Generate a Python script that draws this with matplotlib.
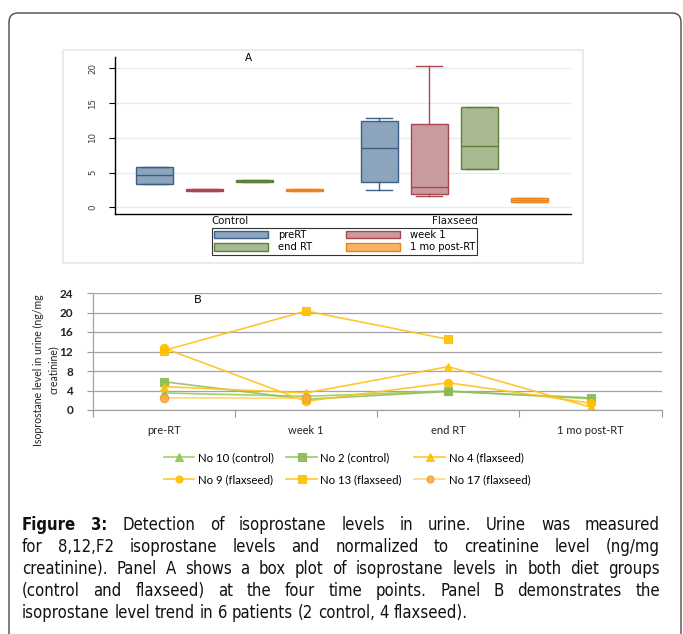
import numpy as np
import matplotlib
matplotlib.use('Agg')
import matplotlib.pyplot as plt
from matplotlib import font_manager
from matplotlib.patches import FancyBboxPatch, Rectangle, Patch
from matplotlib.transforms import IdentityTransform

W, H = 683, 634

# ---- Panel A: box plot summary values
groups = ['Control', 'Flaxseed']
timepoints_a = ['preRT', 'week 1', 'end RT', '1 mo post-RT']
# (whislo, q1, med, q3, whishi)
control_stats = [
    (3.3, 3.3, 4.65, 5.85, 5.85),
    (2.3, 2.3, 2.45, 2.6, 2.6),
    (3.65, 3.65, 3.8, 3.95, 3.95),
    (2.3, 2.3, 2.45, 2.6, 2.6),
]
flax_stats = [
    (2.5, 3.65, 8.5, 12.45, 12.9),
    (1.65, 1.95, 3.0, 12.0, 20.4),
    (5.5, 5.5, 8.8, 14.5, 14.5),
    (0.75, 0.75, 1.05, 1.35, 1.35),
]
a_fill = ['#8DA4BD', '#C99A9E', '#A9BA92', '#F5B466']
a_edge = ['#3B5F86', '#A9464F', '#5E813A', '#E8841C']

# ---- Panel B: individual patients
timepoints_b = ['pre-RT', 'week 1', 'end RT', '1 mo post-RT']
no10_control = [3.5, 2.8, 3.9, 2.3]
no2_control = [5.8, 2.2, 3.8, 2.5]
no4_flax = [4.8, 3.5, 8.9, 0.6]
no9_flax = [12.7, 1.8, 5.6, 1.4]
no13_flax = [12.2, 20.3, 14.5, np.nan]
no17_flax = [2.5, 2.4, np.nan, np.nan]

caption_lines = [
    'Figure 3: Detection of isoprostane levels in urine. Urine was measured',
    'for 8,12,F2 isoprostane levels and normalized to creatinine level (ng/mg',
    'creatinine). Panel A shows a box plot of isoprostane levels in both diet groups',
    '(control and flaxseed) at the four time points. Panel B demonstrates the',
    'isoprostane level trend in 6 patients (2 control, 4 flaxseed).',
]

names = {f.name for f in font_manager.fontManager.ttflist}
if 'Liberation Sans Narrow' in names:
    cap_font, cap_stretch = 'Liberation Sans Narrow', 'normal'
elif any(f.name == 'DejaVu Sans' and f.stretch == 'condensed' for f in font_manager.fontManager.ttflist):
    cap_font, cap_stretch = 'DejaVu Sans', 'condensed'
else:
    cap_font, cap_stretch = 'Liberation Sans', 'normal'
b_font = ['Lato', 'DejaVu Sans']


def fx(x):
    return x / W


def fy(y):
    return 1 - y / H


fig = plt.figure(figsize=(W / 100, H / 100), dpi=100)
fig.patch.set_facecolor('white')
renderer = fig.canvas.get_renderer()

# outer rounded frame and panel A frame (pixel coordinates)
fig.patches.append(FancyBboxPatch((9, H - 680), 672, 680 - 13,
                                  boxstyle='round,pad=0,rounding_size=9',
                                  transform=IdentityTransform(), fill=False,
                                  ec='#4a4a4a', lw=1.0, figure=fig))
fig.patches.append(Rectangle((62.7, H - 262.7), 583 - 62.7, 262.7 - 50,
                             transform=IdentityTransform(), fill=False,
                             ec='#E3EBEF', lw=1.3, figure=fig))

# ---------------- Panel A
axA = fig.add_axes([fx(115), fy(214.3), fx(570.7) - fx(115), fy(57.3) - fy(214.3)])
spacing = 50 / 224.5
bw = 37 / 224.5
stats, pos, fills, edges = [], [], [], []
for g, grp in enumerate([control_stats, flax_stats]):
    for k, s in enumerate(grp):
        stats.append(dict(whislo=s[0], q1=s[1], med=s[2], q3=s[3], whishi=s[4], fliers=[]))
        pos.append(g + (k - 1.5) * spacing)
        fills.append(a_fill[k])
        edges.append(a_edge[k])

bp = axA.bxp(stats, positions=pos, widths=bw, patch_artist=True, showfliers=False,
             capwidths=bw * 0.7, manage_ticks=False)
for i, box in enumerate(bp['boxes']):
    box.set_facecolor(fills[i])
    box.set_edgecolor(edges[i])
    box.set_linewidth(1.0)
    bp['medians'][i].set_color(edges[i])
    bp['medians'][i].set_linewidth(1.0)
    for j in (2 * i, 2 * i + 1):
        bp['whiskers'][j].set_color(edges[i])
        bp['whiskers'][j].set_linewidth(1.0)
        bp['caps'][j].set_color(edges[i])
        bp['caps'][j].set_linewidth(1.0)

axA.set_xlim(-0.512, 1.518)
axA.set_ylim(-1.0, 21.6)
axA.set_yticks([0, 5, 10, 15, 20])
axA.set_yticklabels(['0', '5', '10', '15', '20'], rotation=90, va='center',
                    fontsize=6.2, color='#3a3a3a')
axA.tick_params(axis='y', length=4, width=0.8, pad=9)
axA.set_xticks([0, 1])
axA.set_xticklabels(groups, fontsize=7.4, color='#111111')
axA.tick_params(axis='x', length=0, pad=1.5)
axA.yaxis.grid(True, color='#E3ECF0', lw=1.0)
axA.set_axisbelow(True)
for sp in ['top', 'right']:
    axA.spines[sp].set_visible(False)
for sp in ['left', 'bottom']:
    axA.spines[sp].set_linewidth(1.0)
    axA.spines[sp].set_color('black')
fig.text(fx(248), fy(58), 'A', fontsize=7.5, ha='center', va='center')

legA = [Patch(facecolor=a_fill[k], edgecolor=a_edge[k], lw=1.0, label=timepoints_a[k])
        for k in range(4)]
# order so rows read preRT, week 1 / end RT, 1 mo post-RT
legA = [legA[0], legA[2], legA[1], legA[3]]
fig.legend(handles=legA, loc='upper center', bbox_to_anchor=(fx(344.7), fy(227.7)),
           ncol=2, fontsize=7.2, frameon=True, fancybox=False, edgecolor='black',
           handlelength=5.4, handleheight=0.75, handletextpad=1.0, columnspacing=3.3,
           labelspacing=0.22, borderpad=0.25, borderaxespad=0)
fig.legends[-1].get_frame().set_linewidth(0.8)

# ---------------- Panel B
axB = fig.add_axes([fx(92.7), fy(410), fx(661.7) - fx(92.7), fy(293) - fy(410)])
xs = np.arange(len(timepoints_b))
series = [
    ('No 10 (control)', no10_control, '^', '#9ACD5A', '#92C851', '#92C851'),
    ('No 2 (control)', no2_control, 's', '#93BE5E', '#8CB852', '#8CB852'),
    ('No 4 (flaxseed)', no4_flax, '^', '#FFC21A', '#FFC000', '#FFC000'),
    ('No 9 (flaxseed)', no9_flax, 'o', '#FFC21A', '#FFC000', '#FFC000'),
    ('No 13 (flaxseed)', no13_flax, 's', '#FFC21A', '#FFC000', '#FFC000'),
    ('No 17 (flaxseed)', no17_flax, 'o', '#FFD36A', '#F6AE3E', '#EE9A3A'),
]
handles = []
for lab, vals, mk, lc, mfc, mec in series:
    h, = axB.plot(xs, vals, color=lc, lw=1.2, marker=mk, markersize=6,
                  markerfacecolor=mfc, markeredgecolor=mec, markeredgewidth=0.8,
                  alpha=0.9, label=lab)
    handles.append(h)

axB.set_xlim(-0.5, 3.5)
axB.set_ylim(0, 24)
axB.set_yticks(np.arange(0, 25, 4))
axB.set_yticklabels([str(v) for v in range(0, 25, 4)], family=b_font,
                    fontsize=8.5, fontweight='bold', color='#222222')
axB.tick_params(axis='y', length=4, width=0.8, color='#999999', pad=10)
axB.set_xticks(xs)
axB.set_xticklabels(timepoints_b, family=b_font, fontsize=8, color='#222222')
axB.tick_params(axis='x', which='major', length=0, pad=11)
axB.set_xticks(np.arange(-0.5, 3.6, 1), minor=True)
axB.tick_params(axis='x', which='minor', length=5, width=0.8, color='#999999')
axB.yaxis.grid(True, color='#A3A3A3', lw=0.9)
axB.set_axisbelow(True)
for sp in ['top', 'right']:
    axB.spines[sp].set_visible(False)
for sp in ['left', 'bottom']:
    axB.spines[sp].set_color('#A3A3A3')
    axB.spines[sp].set_linewidth(0.9)
fig.text(fx(198), fy(300), 'B', fontsize=8.5, family=b_font, ha='center', va='center')
fig.text(fx(46), fy(370), 'Isoprostane level in urine (ng/mg\ncreatinine)', rotation=90,
         family=b_font, fontsize=7.6, ha='center', va='center', linespacing=1.4,
         multialignment='center', color='#222222')

order = [0, 3, 1, 4, 2, 5]
fig.legend(handles=[handles[i] for i in order], labels=[series[i][0] for i in order],
           loc='center', bbox_to_anchor=(fx(347), fy(468.5)), ncol=3, frameon=False,
           prop={'family': b_font, 'size': 8.2}, handlelength=2.7, handletextpad=0.3,
           columnspacing=1.1, labelspacing=1.0, markerscale=0.85)

# ---------------- Caption, justified between x=22 and x=660
left, right = 22, 660
# size the caption font so the densest line (line 3) nearly fills the width
probe = fig.text(0, 0, caption_lines[2], family=cap_font, fontsize=10, fontstretch=cap_stretch)
cap_size = min(12.0, 10 * 632 / probe.get_window_extent(renderer).width)
probe.remove()

base = 530
for li, line in enumerate(caption_lines):
    words = line.split(' ')
    texts = []
    for wi, w in enumerate(words):
        bold = li == 0 and wi < 2
        t = fig.text(0, fy(base + 22 * li), w, family=cap_font, fontsize=cap_size,
                     fontstretch=cap_stretch,
                     fontweight='bold' if bold else 'normal', va='baseline', color='#111111')
        texts.append(t)
    widths = [t.get_window_extent(renderer).width for t in texts]
    if li < len(caption_lines) - 1:
        gap = (right - left - sum(widths)) / (len(words) - 1)
    else:
        sp = fig.text(0, 0, 'a b', family=cap_font, fontsize=cap_size, fontstretch=cap_stretch)
        sp2 = fig.text(0, 0, 'ab', family=cap_font, fontsize=cap_size, fontstretch=cap_stretch)
        gap = sp.get_window_extent(renderer).width - sp2.get_window_extent(renderer).width
        sp.remove()
        sp2.remove()
    x = left
    for t, wd in zip(texts, widths):
        t.set_x(fx(x))
        x += wd + gap

fig.savefig('out.png', dpi=100, facecolor='white')
